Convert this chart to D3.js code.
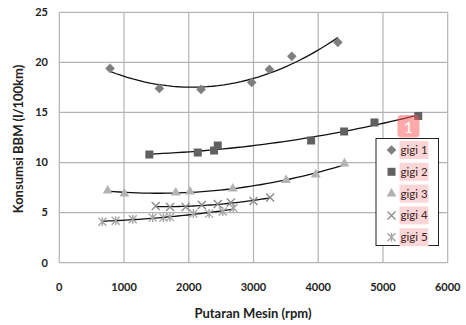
<!DOCTYPE html>
<html lang="en">
<head>
  <meta charset="UTF-8">
  <title>Konsumsi BBM</title>
  <script src="https://d3js.org/d3.v7.min.js"></script>
  <style>
    body { margin: 0; background: #fff; }
    .tick-label { font: bold 11px Lato, "Open Sans", sans-serif; fill: #222; }
    .axis-title { font: bold 13px Lato, "Open Sans", sans-serif; fill: #222; }
    .legend text { font: 11.5px Lato, "Open Sans", sans-serif; fill: #3a2424; }
    .grid line { stroke: #b3b3b3; stroke-width: 1.2px; }
    .trend { fill: none; stroke: #111; stroke-width: 1.3px; }
  </style>
</head>
<body>
<script>
  // data: [rpm, l/100km]
  const gigi1 = [[784, 19.4], [1546, 17.4], [2190, 17.3], [2973, 18.0], [3246, 19.3], [3592, 20.6], [4303, 22.0]];
  const gigi2 = [[1391, 10.8], [2139, 11.0], [2391, 11.2], [2448, 11.7], [3890, 12.2], [4400, 13.1], [4869, 14.0], [5545, 14.65]];
  const gigi3 = [[748, 7.2], [1005, 6.9], [1799, 7.0], [2020, 7.1], [2680, 7.4], [3504, 8.25], [3962, 8.8], [4405, 9.9]];
  const gigi4 = [[1490, 5.65], [1711, 5.55], [1953, 5.55], [2201, 5.75], [2448, 5.85], [2650, 6.0], [3000, 6.15], [3257, 6.5]];
  const gigi5 = [[665, 4.1], [871, 4.2], [1134, 4.35], [1443, 4.5], [1608, 4.5], [1711, 4.55], [2071, 4.9], [2314, 4.9], [2525, 5.1], [2690, 5.45]];

  const seriesNames = ["gigi 1", "gigi 2", "gigi 3", "gigi 4", "gigi 5"];
  const xTicks = [0, 1000, 2000, 3000, 4000, 5000, 6000];
  const yTicks = [0, 5, 10, 15, 20, 25];

  const series = [
    { name: seriesNames[0], data: gigi1, shape: "diamond", color: "#7f7f7f" },
    { name: seriesNames[1], data: gigi2, shape: "square", color: "#616161" },
    { name: seriesNames[2], data: gigi3, shape: "triangle", color: "#b2b2b2" },
    { name: seriesNames[3], data: gigi4, shape: "cross", color: "#8c8c8c" },
    { name: seriesNames[4], data: gigi5, shape: "star", color: "#a6a6a6" }
  ];

  const width = 466, height = 325;
  const x = d3.scaleLinear().domain([0, 6000]).range([59.3, 447.7]);
  const y = d3.scaleLinear().domain([0, 25]).range([262.7, 12.3]);

  const svg = d3.select("body").append("svg")
    .attr("width", width)
    .attr("height", height);

  // grid
  const grid = svg.append("g").attr("class", "grid");
  grid.selectAll(".gx").data(xTicks).enter().append("line")
    .attr("x1", d => x(d)).attr("x2", d => x(d))
    .attr("y1", y(0)).attr("y2", y(25));
  grid.selectAll(".gy").data(yTicks).enter().append("line")
    .attr("x1", x(0)).attr("x2", x(6000))
    .attr("y1", d => y(d)).attr("y2", d => y(d));

  // tick labels
  svg.selectAll(".ylab").data(yTicks).enter().append("text")
    .attr("class", "tick-label")
    .attr("x", 48).attr("y", d => y(d)).attr("dy", "0.35em")
    .attr("text-anchor", "end")
    .text(d => d);
  svg.selectAll(".xlab").data(xTicks).enter().append("text")
    .attr("class", "tick-label")
    .attr("x", d => x(d)).attr("y", 287).attr("dy", "0.35em")
    .attr("text-anchor", "middle")
    .text(d => d);

  svg.append("text").attr("class", "axis-title")
    .attr("x", 253).attr("y", 313).attr("dy", "0.35em")
    .attr("text-anchor", "middle")
    .text("Putaran Mesin (rpm)");
  svg.append("text").attr("class", "axis-title")
    .attr("transform", "translate(18,139) rotate(-90)")
    .attr("dy", "0.35em")
    .attr("text-anchor", "middle")
    .text("Konsumsi BBM (l/100km)");

  // polynomial trendline (order 2, least squares)
  function polyfit(pts) {
    const n = 3;
    const A = [], b = [];
    for (let i = 0; i < n; i++) {
      A.push([]);
      for (let j = 0; j < n; j++) A[i].push(d3.sum(pts, p => Math.pow(p[0] / 1000, i + j)));
      b.push(d3.sum(pts, p => p[1] * Math.pow(p[0] / 1000, i)));
    }
    // gaussian elimination
    for (let i = 0; i < n; i++) {
      for (let k = i + 1; k < n; k++) {
        const f = A[k][i] / A[i][i];
        for (let j = i; j < n; j++) A[k][j] -= f * A[i][j];
        b[k] -= f * b[i];
      }
    }
    const c = new Array(n).fill(0);
    for (let i = n - 1; i >= 0; i--) {
      let s = b[i];
      for (let j = i + 1; j < n; j++) s -= A[i][j] * c[j];
      c[i] = s / A[i][i];
    }
    return v => c[0] + c[1] * (v / 1000) + c[2] * Math.pow(v / 1000, 2);
  }

  const line = d3.line().x(d => x(d[0])).y(d => y(d[1]));

  series.forEach(s => {
    const f = polyfit(s.data);
    const ext = d3.extent(s.data, d => d[0]);
    const pts = d3.range(0, 41).map(i => {
      const v = ext[0] + (ext[1] - ext[0]) * i / 40;
      return [v, f(v)];
    });
    svg.append("path").attr("class", "trend").attr("d", line(pts));
  });

  // marker drawing
  function marker(g, shape, color) {
    if (shape === "diamond") {
      g.append("path").attr("d", "M0,-4.8L4.8,0L0,4.8L-4.8,0Z").attr("fill", color);
    } else if (shape === "square") {
      g.append("path").attr("d", d3.symbol(d3.symbolSquare, 64)()).attr("fill", color);
    } else if (shape === "triangle") {
      g.append("path").attr("d", d3.symbol(d3.symbolTriangle, 42)()).attr("fill", color);
    } else if (shape === "cross") {
      g.append("path").attr("d", "M-4,-4L4,4M-4,4L4,-4")
        .attr("stroke", color).attr("stroke-width", 1.4).attr("fill", "none");
    } else {
      g.append("path").attr("d", "M-4,-4L4,4M-4,4L4,-4M0,-4.5L0,4.5")
        .attr("stroke", color).attr("stroke-width", 1.4).attr("fill", "none");
    }
  }

  series.forEach(s => {
    svg.append("g").selectAll("g").data(s.data).enter().append("g")
      .attr("transform", d => `translate(${x(d[0])},${y(d[1])})`)
      .each(function () { marker(d3.select(this), s.shape, s.color); });
  });

  // legend
  const legend = svg.append("g").attr("class", "legend");
  legend.append("rect")
    .attr("x", 376).attr("y", 138.5).attr("width", 62.5).attr("height", 107)
    .attr("fill", "#fff").attr("stroke", "#222").attr("stroke-width", 1);
  const rows = legend.selectAll(".row").data(series).enter().append("g")
    .attr("transform", (d, i) => `translate(391.5,${150 + i * 21.8})`);
  rows.each(function (d) { marker(d3.select(this), d.shape, d.color); });
  rows.append("rect")
    .attr("x", 8).attr("y", -9).attr("width", 29).attr("height", 18)
    .attr("fill", "#fcd6d6");
  rows.append("text")
    .attr("x", 9).attr("dy", "0.35em")
    .text(d => d.name);

  // annotation badge
  svg.append("rect")
    .attr("x", 397.5).attr("y", 115).attr("width", 22).attr("height", 22.5).attr("rx", 4)
    .attr("fill", "#f55").attr("fill-opacity", 0.5);
  svg.append("text")
    .attr("x", 408.5).attr("y", 127).attr("dy", "0.35em")
    .attr("text-anchor", "middle")
    .attr("fill", "#fff")
    .style("font", "16px Lato, sans-serif")
    .text("1");
</script>
</body>
</html>
